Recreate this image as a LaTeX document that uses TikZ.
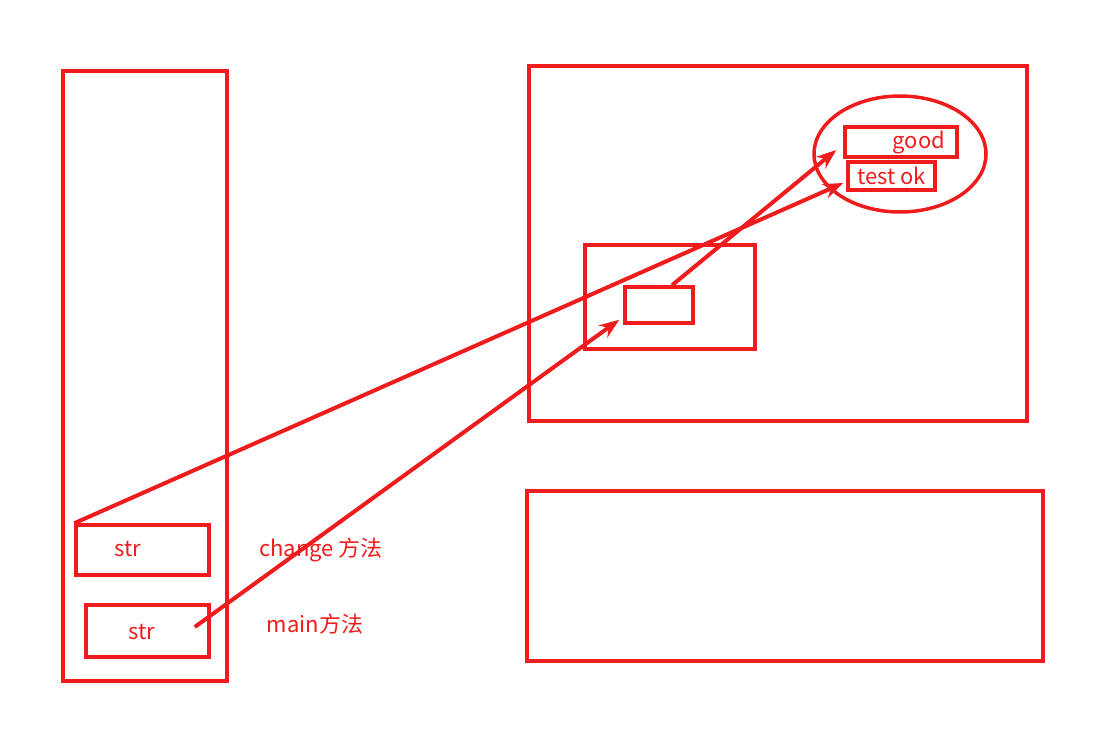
\documentclass[tikz,border=0pt]{standalone}
\usepackage{fontspec}
\setmainfont{Noto Sans CJK SC}
\usepackage{xcolor}
\definecolor{memred}{HTML}{EE1C1C}
\usetikzlibrary{arrows.meta,positioning,calc,shapes.geometric}

\begin{document}
\begin{tikzpicture}[x=1pt,y=-1pt,
  box/.style={draw=memred,line width=3.5pt,inner sep=0pt,text=memred,font=\fontsize{22}{26}\selectfont},
  lbl/.style={text=memred,font=\fontsize{22}{26}\selectfont,inner sep=0pt},
  arr/.style={-{Stealth[length=20pt,width=15pt]},memred,line width=4pt},
]
\useasboundingbox (0,0) rectangle (1112,736);

% stack side
\node[box,minimum width=164,minimum height=610] (stack) at (145,376) {};
\node[box,minimum width=133,minimum height=50] (str1) at (142.5,550) {};
\node[lbl] at (128,549) {str};
\node[box,minimum width=123,minimum height=52] (str2) at (147.5,631) {};
\node[lbl] at (142,632) {str};
\node[lbl] at (321,550) {change 方法};
\node[lbl] at (315,624) {main方法};

% heap side
\node[box,minimum width=498,minimum height=355] (heap) at (778,243.5) {};
\node[box,minimum width=170,minimum height=104] (obj) at (670,297) {};
\node[box,minimum width=68,minimum height=36] (ref) at (659,305) {};
\node[box,ellipse,minimum width=172,minimum height=116] (pool) at (900,154) {};
\node[box,minimum width=112,minimum height=30,text width=88,align=right,inner xsep=12pt] (good) at (901,142) {good};
\node[box,minimum width=87,minimum height=28] (testok) at (891.5,176) {test ok};
\node[box,minimum width=516,minimum height=170] (other) at (785,576) {};

% references
\coordinate (chgref) at (str1.north west);
\coordinate (chgend) at ($(testok.west)+(-3,7)$);
\coordinate (mainref) at ($(str2.east)+(-16,-4)$);
\coordinate (mainend) at ($(ref.south west)+(-4,-5)$);
\coordinate (objref) at ($(ref.north)+(13,0)$);
\coordinate (objend) at ($(good.west)+(-7,8)$);

\draw[arr] (chgref) -- (chgend);
\draw[arr] (mainref) -- (mainend);
\draw[arr] (objref) -- (objend);
\end{tikzpicture}
\end{document}
